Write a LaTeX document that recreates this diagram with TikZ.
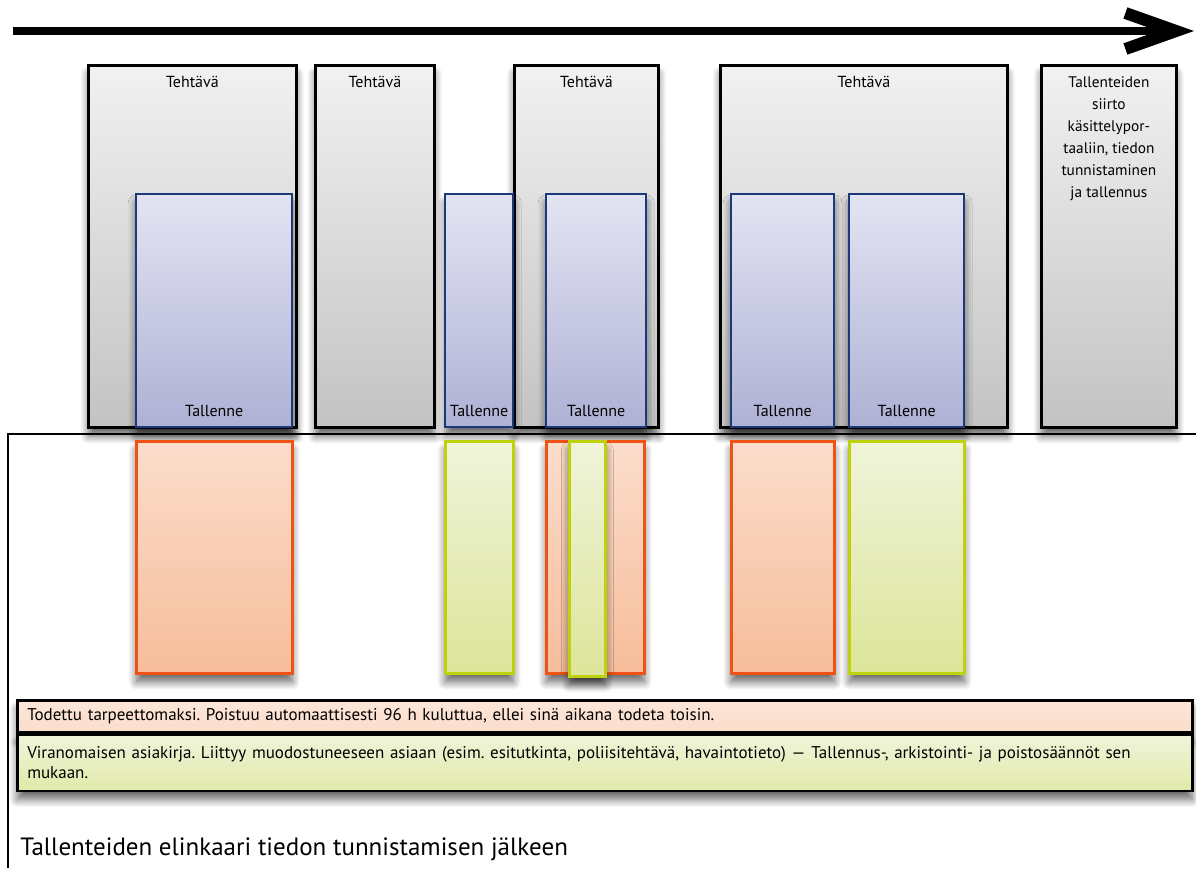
\documentclass[tikz,border=0pt]{standalone}
\usepackage{fontspec}
\setmainfont{PT Sans}
\frenchspacing
\usetikzlibrary{arrows.meta, positioning, shadows.blur}

\definecolor{taskTop}{HTML}{F1F1F1}
\definecolor{taskBot}{HTML}{C3C3C3}
\definecolor{recTop}{HTML}{E3E4F2}
\definecolor{recBot}{HTML}{AFB1D5}
\definecolor{recLine}{HTML}{1C3A7A}
\definecolor{delTop}{HTML}{FBDDCB}
\definecolor{delBot}{HTML}{F6BD9B}
\definecolor{delLine}{HTML}{EE5314}
\definecolor{docTop}{HTML}{EFF4DA}
\definecolor{docBot}{HTML}{DCE59A}
\definecolor{docLine}{HTML}{BDD20C}

\tikzset{
  wh/.style 2 args={minimum width=#1*0.75pt, minimum height=#2*0.75pt},
  soft/.style={blur shadow={shadow xshift=0pt, shadow yshift=-6.5pt, shadow blur radius=6pt,
    shadow blur steps=10, shadow opacity=60}},
  box/.style={anchor=north west, inner sep=0pt, soft},
  task/.style={box, draw=black, line width=2.1pt, top color=taskTop, bottom color=taskBot},
  rec/.style={box, draw=recLine, line width=1.8pt, top color=recTop, bottom color=recBot},
  del/.style={box, draw=delLine, line width=1.9pt, top color=delTop, bottom color=delBot},
  doc/.style={box, draw=docLine, line width=1.9pt, top color=docTop, bottom color=docBot},
  toplabel/.style={anchor=north, yshift=-6pt, align=center, font=\fontsize{12}{16.5}\selectfont},
  portallabel/.style={toplabel, font=\fontsize{11.5}{16.5}\selectfont},
  reclabel/.style={anchor=south, yshift=5.5pt, font=\fontsize{12}{14}\selectfont},
  legend/.style={draw=black, line width=1.9pt, minimum width=1175*0.75pt, inner xsep=7.5pt,
    text width=1175*0.75pt-15pt, align=left, font=\fontsize{12.75}{15}\selectfont, soft},
}

\begin{document}
\begin{tikzpicture}[x=0.75pt, y=-0.75pt]
\useasboundingbox (0,0) rectangle (1196,868);

% timeline
\coordinate (t0) at (13,31);
\coordinate (t1) at (1194,31);
\draw[line width=6.5pt, -{Straight Barb[length=38pt, width=27pt, line width=9pt]}] (t0) -- (t1);

% tasks
\node (task1) [task, wh={208}{362}, label={[toplabel]north:Tehtävä}] at (87,64) {};
\node (task2) [task, wh={119}{362}, label={[toplabel]north:Tehtävä}] at (314,64) {};
\node (task3) [task, wh={144}{362}, label={[toplabel]north:Tehtävä}] at (513,64) {};
\node (task4) [task, wh={287}{362}, label={[toplabel]north:Tehtävä}] at (719,64) {};
\node (portal) [task, wh={135}{362},
  label={[portallabel]north:{Tallenteiden\\siirto\\käsittelypor-\\taaliin, tiedon\\tunnistaminen\\ja tallennus}}] at (1040,64) {};

% recordings
\node (rec1) [rec, wh={156}{233}, label={[reclabel]south:Tallenne}] at (135,193) {};
\node (rec2) [rec, wh={68}{233}, label={[reclabel]south:Tallenne}] at (444,193) {};
\node (rec3) [rec, wh={100}{233}, label={[reclabel]south:Tallenne}] at (545,193) {};
\node (rec4) [rec, wh={103}{233}, label={[reclabel]south:Tallenne}] at (730,193) {};
\node (rec5) [rec, wh={115}{233}, label={[reclabel]south:Tallenne}] at (848,193) {};

% lifecycle frame
\draw[line width=1.6pt] (1196,434) -- (8,434) -- (8,868);

% outcomes
\node (del1) [del, wh={156}{232}] at (135,440) {};
\node (del3) [del, wh={98}{232}] at (545,440) {};
\node (del4) [del, wh={103}{232}] at (730,440) {};
\node (doc2) [doc, wh={68}{232}] at (444,440) {};
\node (doc3) [doc, wh={36}{235}] at (568,440) {};
\node (doc5) [doc, wh={115}{232}] at (848,440) {};

% legend
\node (keyDel) [legend, anchor=north west, minimum height=32*0.75pt, top color=delTop!75, bottom color=delTop]
  at (16,699) {Todettu tarpeettomaksi. Poistuu automaattisesti 96 h kuluttua, ellei sinä aikana todeta toisin.};
\node (keyDoc) [legend, below=0pt of keyDel, minimum height=56*0.75pt, top color=docTop, bottom color=docBot!85]
  {Viranomaisen asiakirja. Liittyy muodostuneeseen asiaan (esim. esitutkinta, poliisitehtävä, havaintotieto) --- Tallennus-, arkistointi- ja poistosäännöt sen\\mukaan.};

\node (title) [anchor=base west, font=\fontsize{18.75}{22}\selectfont, inner sep=0pt] at (20,855)
  {Tallenteiden elinkaari tiedon tunnistamisen jälkeen};
\end{tikzpicture}
\end{document}
